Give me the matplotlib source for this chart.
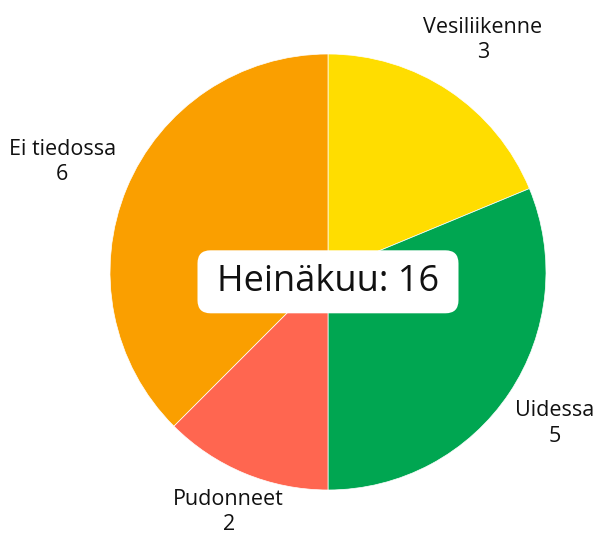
import numpy as np
import matplotlib.pyplot as plt
from matplotlib.patches import FancyBboxPatch
from matplotlib.transforms import IdentityTransform

plt.rcParams['font.family'] = ['Open Sans', 'DejaVu Sans']

categories = ["Vesiliikenne", "Uidessa", "Pudonneet", "Ei tiedossa"]
values = [3, 5, 2, 6]
colors = ["#FFDD00", "#00A651", "#FF6650", "#FA9F00"]
title = "Heinäkuu"

# label distance from centre, in radii
label_dist = [1.28, 1.25, 1.19, 1.32]

W, H = 601, 535
fig = plt.figure(figsize=(W / 100, H / 100), dpi=100)
cx, cy, r = 328, 272, 218
ax = fig.add_axes([(cx - r) / W, (H - cy - r) / H, 2 * r / W, 2 * r / H])

wedges, _ = ax.pie(values, colors=colors, startangle=90, counterclock=False,
                   wedgeprops=dict(edgecolor="white", linewidth=0.5))
ax.set_xlim(-1, 1)
ax.set_ylim(-1, 1)
ax.axis("off")

for w, name, v, d in zip(wedges, categories, values, label_dist):
    ang = np.deg2rad((w.theta1 + w.theta2) / 2)
    ax.text(d * np.cos(ang), d * np.sin(ang), f"{name}\n{v}", ha="center", va="center",
            fontsize=15.5, color="#111111", linespacing=1.27, clip_on=False)

t = ax.text(0, -0.045, f"{title}: {sum(values)}", ha="center", va="center", fontsize=26,
            color="#111111", zorder=5)
fig.canvas.draw()
bb = t.get_window_extent(fig.canvas.get_renderer())
bx, by = (bb.x0 + bb.x1) / 2, (bb.y0 + bb.y1) / 2
bw, bh = 261, 63
box = FancyBboxPatch((bx - bw / 2, by - bh / 2), bw, bh,
                     boxstyle="round,pad=0,rounding_size=13",
                     fc="white", ec="none", transform=IdentityTransform(),
                     zorder=4, clip_on=False)
ax.add_artist(box)

fig.savefig("out.png", dpi=100)
